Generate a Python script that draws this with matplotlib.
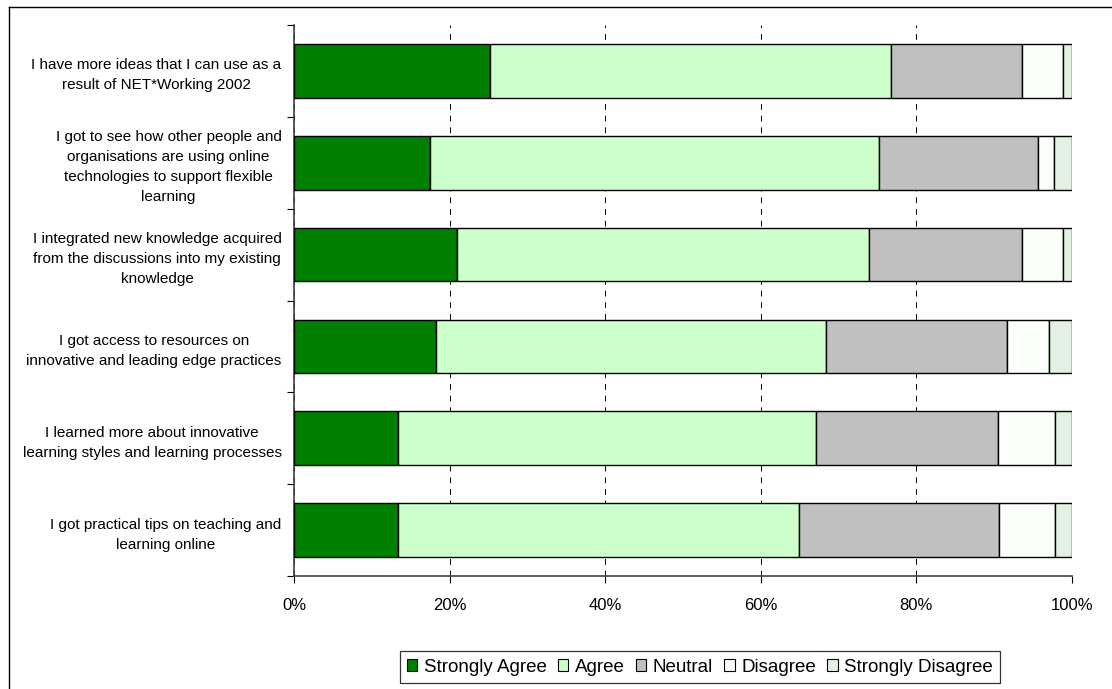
import numpy as np
import matplotlib
matplotlib.use("Agg")
import matplotlib.pyplot as plt
from matplotlib.patches import Patch
from matplotlib.ticker import PercentFormatter

plt.rcParams["font.family"] = ["Liberation Sans", "DejaVu Sans"]

statements = [
    "I have more ideas that I can use as a\nresult of NET*Working 2002",
    "I got to see how other people and\norganisations are using online\ntechnologies to support flexible\nlearning",
    "I integrated new knowledge acquired\nfrom the discussions into my existing\nknowledge",
    "I got access to resources on\ninnovative and leading edge practices",
    "I learned more about innovative\nlearning styles and learning processes",
    "I got practical tips on teaching and\nlearning online",
]
responses = ["Strongly Agree", "Agree", "Neutral", "Disagree", "Strongly Disagree"]

# percentage of respondents per answer, one list per statement
strongly_agree = [25.2, 17.5, 20.9, 18.3, 13.4, 13.4]
agree = [51.6, 57.7, 53.0, 50.1, 53.7, 51.5]
neutral = [16.8, 20.4, 19.7, 23.2, 23.4, 25.7]
disagree = [5.3, 2.1, 5.3, 5.4, 7.3, 7.2]
strongly_disagree = [1.1, 2.3, 1.1, 3.0, 2.2, 2.2]

colors = ["#008000", "#CCFFCC", "#C0C0C0", "#FAFFFA", "#E3F1E3"]

series = np.array([strongly_agree, agree, neutral, disagree, strongly_disagree])
y = np.arange(len(statements))

fig = plt.figure(figsize=(11.12, 6.89), dpi=100)
ax = fig.add_axes([0.2644, 0.164, 0.6996, 0.7997])

left = np.zeros(len(statements))
for vals, color in zip(series, colors):
    ax.barh(y, vals, left=left, height=0.585, color=color,
            edgecolor="black", linewidth=1.0, zorder=3)
    left += vals

ax.set_xlim(0, 100)
ax.set_ylim(len(statements) - 0.5, -0.5)
ax.set_xticks(np.arange(0, 101, 20))
ax.xaxis.set_major_formatter(PercentFormatter(decimals=0))
ax.set_yticks(np.arange(len(statements) + 1) - 0.5, minor=False)
ax.set_yticklabels([])
ax.set_yticks(y, minor=True)
ax.set_yticklabels(statements, minor=True, fontsize=11, linespacing=1.55)
for lbl in ax.get_yticklabels(minor=True):
    lbl.set_multialignment("center")
ax.tick_params(axis="y", which="minor", length=0, pad=9)
ax.tick_params(axis="y", which="major", length=5, width=0.8, direction="out")
ax.tick_params(axis="x", length=5, width=0.8, direction="out", labelsize=12, pad=11)

ax.xaxis.grid(True, color="black", linestyle=(0, (6, 6)), linewidth=0.7, zorder=0)
for side in ["top", "right"]:
    ax.spines[side].set_visible(False)
for side in ["left", "bottom"]:
    ax.spines[side].set_color("#404040")
    ax.spines[side].set_linewidth(1.2)

handles = [Patch(facecolor=c, edgecolor="black", linewidth=0.8) for c in colors]
leg = fig.legend(handles, responses, loc="center", bbox_to_anchor=(700 / 1112, 1 - 667 / 689),
                 ncol=5, fontsize=13.5, frameon=True, fancybox=False,
                 handlelength=0.55, handleheight=0.55, handletextpad=0.35,
                 columnspacing=0.6, borderpad=0.4)
leg.get_frame().set_edgecolor("black")
leg.get_frame().set_linewidth(0.9)

# outer chart frame
fig.add_artist(plt.Line2D([9 / 1112, 9 / 1112], [0, 1 - 7 / 689], transform=fig.transFigure,
                          color="black", linewidth=1.0))
fig.add_artist(plt.Line2D([9 / 1112, 1], [1 - 7 / 689, 1 - 7 / 689], transform=fig.transFigure,
                          color="black", linewidth=1.0))

fig.savefig("out.png", dpi=100)
